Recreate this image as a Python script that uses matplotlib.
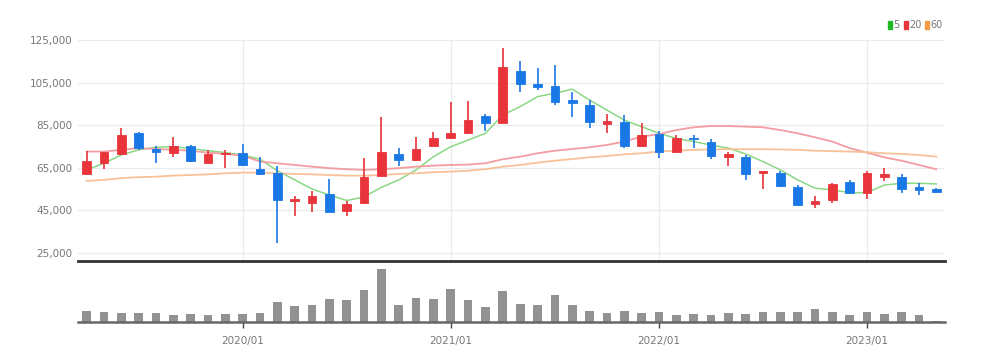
import numpy as np
import matplotlib.pyplot as plt
from matplotlib.patches import Rectangle

# monthly candles 2019/04 .. 2023/05
opens = [62000, 67400, 71500, 81200, 73700, 71800, 75000, 67400, 71300, 71800,
         64400, 62700, 49500, 48300, 52600, 44700, 48600, 61300, 71500, 68700,
         75200, 79100, 81200, 89300, 85900, 110400, 104200, 103400, 96800, 94500,
         85600, 86600, 75200, 80700, 72600, 79100, 77300, 69900, 70200, 62400,
         62700, 56100, 48000, 49900, 58200, 53300, 60500, 60800, 55800, 55000]
highs = [73000, 72500, 83500, 81800, 75000, 79600, 75500, 73400, 73500, 76000,
         70200, 66000, 51500, 54200, 59600, 49600, 69500, 89000, 74200, 79600,
         82000, 96000, 96500, 90100, 121400, 115100, 112000, 113300, 100700, 96800,
         90100, 89800, 85900, 82400, 80400, 80400, 78400, 72300, 71000, 63700,
         63400, 56800, 51800, 57700, 59300, 63600, 64800, 62100, 57700, 55300]
lows = [61500, 64300, 71000, 73500, 67000, 70200, 67500, 67000, 64800, 66000,
        61800, 29500, 42500, 44000, 44000, 42400, 48300, 61000, 66000, 68400,
        75000, 78400, 80900, 82300, 85800, 100700, 101500, 94500, 89000, 83500,
        81500, 74400, 74600, 69500, 72400, 74200, 69000, 66000, 59300, 54900,
        56100, 47100, 46000, 48300, 52700, 50400, 58800, 53000, 52200, 53100]
closes = [68000, 72300, 80400, 74400, 72300, 75000, 68000, 71500, 72000, 66300,
          62100, 50000, 50500, 51900, 44400, 48100, 60800, 72600, 68700, 73800,
          78800, 81200, 87400, 85900, 112200, 104300, 102800, 96000, 95300, 86400,
          87000, 75200, 80400, 72600, 78800, 78400, 70500, 71300, 62100, 63500,
          56600, 47500, 49400, 57300, 53000, 62400, 62100, 54900, 54600, 53500]

# moving average lines
ma5 = [64000, 67100, 71000, 73400, 74600, 74900, 74000, 73000, 72100, 71000,
       69000, 63600, 59300, 55000, 52200, 49600, 51300, 55800, 59300, 64000,
       70200, 74900, 78000, 81200, 89800, 93700, 98400, 100000, 101900, 96800,
       92100, 87400, 84300, 81200, 78800, 77300, 75700, 74200, 71500, 67900,
       64000, 59300, 55400, 54600, 53300, 53300, 56900, 57700, 57700, 57400]
ma20 = [72600, 72600, 73400, 74200, 73800, 73400, 73000, 72100, 71500, 70700,
        67900, 67100, 66300, 65500, 64800, 64300, 64000, 64300, 64800, 65500,
        66000, 66300, 66500, 67100, 69000, 70200, 71800, 73000, 73800, 74600,
        75700, 77300, 79600, 80800, 82700, 84000, 84600, 84600, 84300, 84000,
        82700, 81200, 79300, 77300, 74200, 72100, 69900, 68300, 66300, 64300]
ma60 = [58800, 59300, 60100, 60600, 60800, 61300, 61600, 61900, 62400, 62700,
        62700, 62400, 62100, 61900, 61600, 61300, 61300, 61600, 62100, 62400,
        62900, 63200, 63600, 64300, 65500, 66300, 67400, 68300, 69100, 69900,
        70500, 71300, 71800, 72600, 73000, 73400, 73600, 73700, 73700, 73700,
        73600, 73400, 73000, 72800, 72600, 72300, 71800, 71500, 71000, 70200]

volume = [10.7, 10.0, 9.3, 9.3, 9.3, 7.3, 8.3, 6.7, 8.3, 8.3,
          9.3, 20.0, 15.7, 17.3, 23.3, 22.3, 32.3, 53.3, 16.7, 24.0,
          22.7, 33.3, 21.7, 15.0, 30.7, 18.3, 16.7, 27.3, 16.7, 10.7,
          9.0, 10.7, 9.0, 10.0, 7.3, 8.3, 7.3, 9.0, 8.3, 10.0,
          10.0, 10.0, 13.3, 10.0, 7.3, 10.0, 8.3, 10.0, 6.7, 1.3]

tick_pos = [9, 21, 33, 45]
tick_labels = ['2020/01', '2021/01', '2022/01', '2023/01']
price_ticks = [25000, 45000, 65000, 85000, 105000, 125000]

up_col = '#e8343a'
down_col = '#1a78e6'
font = ['Liberation Sans Narrow', 'DejaVu Sans']

fig = plt.figure(figsize=(9.91, 3.62), dpi=100)
ax = fig.add_axes([0.0787, 0.279, 0.8749, 0.6105])
axv = fig.add_axes([0.0787, 0.1105, 0.8749, 0.1602])

x = np.arange(len(opens))
o = np.array(opens)
c = np.array(closes)
cols = [up_col if cc >= oo else down_col for oo, cc in zip(o, c)]

ax.vlines(x, lows, highs, color=cols, lw=1.2, zorder=3)
ax.bar(x, np.maximum(np.abs(c - o), 400), bottom=np.minimum(o, c), width=0.5,
       color=cols, edgecolor=cols, lw=0.6, zorder=4)

ax.plot(x, ma5, color='#8ad884', lw=1.1, zorder=2)
ax.plot(x, ma20, color='#f39ca2', lw=1.3, zorder=2)
ax.plot(x, ma60, color='#f8c197', lw=1.3, zorder=2)

ax.set_xlim(-0.5, 49.5)
ax.set_ylim(21200, 125000)
ax.set_yticks(price_ticks)
ax.set_yticklabels([f'{v:,}' for v in price_ticks], family=font, fontsize=7.5, color='#777777')
ax.set_xticks(tick_pos)
ax.set_xticklabels([])
ax.tick_params(axis='y', length=0, pad=4)
ax.tick_params(axis='x', length=0)
ax.grid(True, color='#ebebeb', lw=0.9)
ax.set_axisbelow(True)
for s in ['top', 'right', 'left']:
    ax.spines[s].set_visible(False)
ax.spines['bottom'].set_color('#333333')
ax.spines['bottom'].set_linewidth(2)

# legend top right
lx = [0.896, 0.912, 0.933]
for xx, txt, cc in zip(lx, ['5', '20', '60'], ['#22b822', '#e8343a', '#f59a45']):
    fig.patches.append(Rectangle((xx, 0.919), 0.0042, 0.024, transform=fig.transFigure,
                                 color=cc, figure=fig))
    fig.text(xx + 0.0058, 0.931, txt, family=font, fontsize=7, color='#777777', va='center')

axv.bar(x, volume, width=0.5, color='#929292', zorder=2)
axv.set_xlim(-0.5, 49.5)
axv.set_ylim(0, 58)
axv.set_yticks([])
axv.set_xticks(tick_pos)
axv.set_xticklabels(tick_labels, family=font, fontsize=7.5, color='#777777')
axv.tick_params(axis='x', length=4, width=1, color='#444444', pad=6)
for s in ['top', 'right', 'left']:
    axv.spines[s].set_visible(False)
axv.spines['bottom'].set_color('#666666')
axv.spines['bottom'].set_linewidth(1.8)

fig.savefig('out.png', dpi=100)
